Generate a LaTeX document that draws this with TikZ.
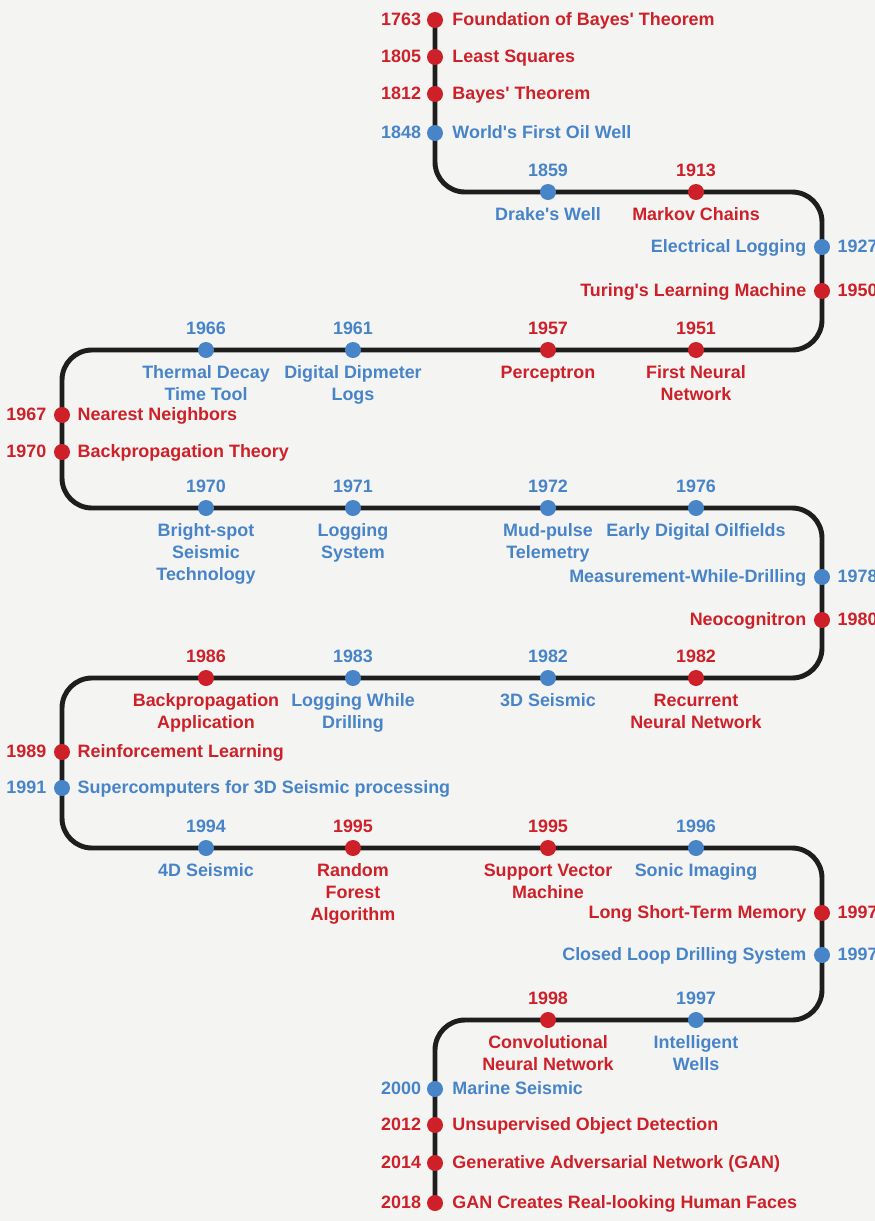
\documentclass[tikz,border=0pt]{standalone}
\usepackage{fontspec}
\setsansfont{Liberation Sans}
\usetikzlibrary{positioning,backgrounds}

\definecolor{mlred}{RGB}{206,32,40}
\definecolor{oilblue}{RGB}{72,132,200}
\definecolor{paper}{RGB}{244,244,243}
\definecolor{rail}{RGB}{30,30,30}

\begin{document}
\begin{tikzpicture}[
  x=0.02cm, y=-0.02cm,
  font=\sffamily\bfseries\fontsize{10.2}{12.5}\selectfont,
  track/.style={line width=2.8pt, rail, rounded corners=0.6cm},
  dot/.style={circle, minimum size=0.32cm, inner sep=0pt},
  ml/.style={dot, fill=mlred},
  oil/.style={dot, fill=oilblue},
  mltext/.style={text=mlred, align=center, inner sep=2pt},
  oiltext/.style={text=oilblue, align=center, inner sep=2pt},
  mlside/.style={mltext, text height=1.45ex, text depth=0pt},
  oilside/.style={oiltext, text height=1.45ex, text depth=0pt},
]

% ===== Canvas =====
\fill[paper] (0,0) rectangle (875,1221);
\useasboundingbox (0,0) rectangle (875,1221);

% ===== The winding track =====
\coordinate (c0) at (435,20);
\coordinate (c1) at (822,192);
\coordinate (c2) at (62,350);
\coordinate (c3) at (822,508);
\coordinate (c4) at (62,678);
\coordinate (c5) at (822,848);
\coordinate (c6) at (435,1020);
\coordinate (c7) at (435,1203);
\draw[track] (c0) |- (c1) |- (c2) |- (c3) |- (c4) |- (c5) |- (c6) -- (c7);

% ===== Top stem (x = 435) =====
\node[ml] (e1763) at (435,20) {};
\node[mlside, left=1pt of e1763] (y1763) {1763};
\node[mlside, right=3pt of e1763] (t1763) {Foundation of Bayes\textquotesingle\ Theorem};
\node[ml] (e1805) at (435,57) {};
\node[mlside, left=1pt of e1805] (y1805) {1805};
\node[mlside, right=3pt of e1805] (t1805) {Least Squares};
\node[ml] (e1812) at (435,94) {};
\node[mlside, left=1pt of e1812] (y1812) {1812};
\node[mlside, right=3pt of e1812] (t1812) {Bayes\textquotesingle\ Theorem};
\node[oil] (e1848) at (435,133) {};
\node[oilside, left=1pt of e1848] (y1848) {1848};
\node[oilside, right=3pt of e1848] (t1848) {World\textquotesingle s First Oil Well};

% ===== Row 1 (y = 192) =====
\node[oil] (e1859) at (548,192) {};
\node[oiltext, above=2pt of e1859] (y1859) {1859};
\node[oiltext, below=2pt of e1859] (t1859) {Drake\textquotesingle s Well};
\node[ml] (e1913) at (696,192) {};
\node[mltext, above=2pt of e1913] (y1913) {1913};
\node[mltext, below=2pt of e1913] (t1913) {Markov Chains};

% right bend
\node[oil] (e1927) at (822,247) {};
\node[oilside, right=2pt of e1927] (y1927) {1927};
\node[oilside, left=2pt of e1927] (t1927) {Electrical Logging};
\node[ml] (e1950) at (822,291) {};
\node[mlside, right=2pt of e1950] (y1950) {1950};
\node[mlside, left=2pt of e1950] (t1950) {Turing\textquotesingle s Learning Machine};

% ===== Row 2 (y = 350) =====
\node[ml] (e1951) at (696,350) {};
\node[mltext, above=2pt of e1951] (y1951) {1951};
\node[mltext, below=2pt of e1951] (t1951) {First Neural\\Network};
\node[ml] (e1957) at (548,350) {};
\node[mltext, above=2pt of e1957] (y1957) {1957};
\node[mltext, below=2pt of e1957] (t1957) {Perceptron};
\node[oil] (e1961) at (353,350) {};
\node[oiltext, above=2pt of e1961] (y1961) {1961};
\node[oiltext, below=2pt of e1961] (t1961) {Digital Dipmeter\\Logs};
\node[oil] (e1966) at (206,350) {};
\node[oiltext, above=2pt of e1966] (y1966) {1966};
\node[oiltext, below=2pt of e1966] (t1966) {Thermal Decay\\Time Tool};

% left bend
\node[ml] (e1967) at (62,415) {};
\node[mlside, left=2pt of e1967] (y1967) {1967};
\node[mlside, right=2pt of e1967] (t1967) {Nearest Neighbors};
\node[ml] (e1970a) at (62,452) {};
\node[mlside, left=2pt of e1970a] (y1970a) {1970};
\node[mlside, right=2pt of e1970a] (t1970a) {Backpropagation Theory};

% ===== Row 3 (y = 508) =====
\node[oil] (e1970b) at (206,508) {};
\node[oiltext, above=2pt of e1970b] (y1970b) {1970};
\node[oiltext, below=2pt of e1970b] (t1970b) {Bright-spot\\Seismic\\Technology};
\node[oil] (e1971) at (353,508) {};
\node[oiltext, above=2pt of e1971] (y1971) {1971};
\node[oiltext, below=2pt of e1971] (t1971) {Logging\\System};
\node[oil] (e1972) at (548,508) {};
\node[oiltext, above=2pt of e1972] (y1972) {1972};
\node[oiltext, below=2pt of e1972] (t1972) {Mud-pulse\\Telemetry};
\node[oil] (e1976) at (696,508) {};
\node[oiltext, above=2pt of e1976] (y1976) {1976};
\node[oiltext, below=2pt of e1976] (t1976) {Early Digital Oilfields};

% right bend
\node[oil] (e1978) at (822,577) {};
\node[oilside, right=2pt of e1978] (y1978) {1978};
\node[oilside, left=2pt of e1978] (t1978) {Measurement-While-Drilling};
\node[ml] (e1980) at (822,620) {};
\node[mlside, right=2pt of e1980] (y1980) {1980};
\node[mlside, left=2pt of e1980] (t1980) {Neocognitron};

% ===== Row 4 (y = 678) =====
\node[ml] (e1982a) at (696,678) {};
\node[mltext, above=2pt of e1982a] (y1982a) {1982};
\node[mltext, below=2pt of e1982a] (t1982a) {Recurrent\\Neural Network};
\node[oil] (e1982b) at (548,678) {};
\node[oiltext, above=2pt of e1982b] (y1982b) {1982};
\node[oiltext, below=2pt of e1982b] (t1982b) {3D Seismic};
\node[oil] (e1983) at (353,678) {};
\node[oiltext, above=2pt of e1983] (y1983) {1983};
\node[oiltext, below=2pt of e1983] (t1983) {Logging While\\Drilling};
\node[ml] (e1986) at (206,678) {};
\node[mltext, above=2pt of e1986] (y1986) {1986};
\node[mltext, below=2pt of e1986] (t1986) {Backpropagation\\Application};

% left bend
\node[ml] (e1989) at (62,752) {};
\node[mlside, left=2pt of e1989] (y1989) {1989};
\node[mlside, right=2pt of e1989] (t1989) {Reinforcement Learning};
\node[oil] (e1991) at (62,788) {};
\node[oilside, left=2pt of e1991] (y1991) {1991};
\node[oilside, right=2pt of e1991] (t1991) {Supercomputers for 3D Seismic processing};

% ===== Row 5 (y = 848) =====
\node[oil] (e1994) at (206,848) {};
\node[oiltext, above=2pt of e1994] (y1994) {1994};
\node[oiltext, below=2pt of e1994] (t1994) {4D Seismic};
\node[ml] (e1995a) at (353,848) {};
\node[mltext, above=2pt of e1995a] (y1995a) {1995};
\node[mltext, below=2pt of e1995a] (t1995a) {Random\\Forest\\Algorithm};
\node[ml] (e1995b) at (548,848) {};
\node[mltext, above=2pt of e1995b] (y1995b) {1995};
\node[mltext, below=2pt of e1995b] (t1995b) {Support Vector\\Machine};
\node[oil] (e1996) at (696,848) {};
\node[oiltext, above=2pt of e1996] (y1996) {1996};
\node[oiltext, below=2pt of e1996] (t1996) {Sonic Imaging};

% right bend
\node[ml] (e1997a) at (822,913) {};
\node[mlside, right=2pt of e1997a] (y1997a) {1997};
\node[mlside, left=2pt of e1997a] (t1997a) {Long Short-Term Memory};
\node[oil] (e1997b) at (822,955) {};
\node[oilside, right=2pt of e1997b] (y1997b) {1997};
\node[oilside, left=2pt of e1997b] (t1997b) {Closed Loop Drilling System};

% ===== Row 6 (y = 1020) =====
\node[oil] (e1997c) at (696,1020) {};
\node[oiltext, above=2pt of e1997c] (y1997c) {1997};
\node[oiltext, below=2pt of e1997c] (t1997c) {Intelligent\\Wells};
\node[ml] (e1998) at (548,1020) {};
\node[mltext, above=2pt of e1998] (y1998) {1998};
\node[mltext, below=2pt of e1998] (t1998) {Convolutional\\Neural Network};

% ===== Bottom stem (x = 435) =====
\node[oil] (e2000) at (435,1089) {};
\node[oilside, left=1pt of e2000] (y2000) {2000};
\node[oilside, right=3pt of e2000] (t2000) {Marine Seismic};
\node[ml] (e2012) at (435,1125) {};
\node[mlside, left=1pt of e2012] (y2012) {2012};
\node[mlside, right=3pt of e2012] (t2012) {Unsupervised Object Detection};
\node[ml] (e2014) at (435,1163) {};
\node[mlside, left=1pt of e2014] (y2014) {2014};
\node[mlside, right=3pt of e2014] (t2014) {Generative Adversarial Network (GAN)};
\node[ml] (e2018) at (435,1203) {};
\node[mlside, left=1pt of e2018] (y2018) {2018};
\node[mlside, right=3pt of e2018] (t2018) {GAN Creates Real-looking Human Faces};

\end{tikzpicture}
\end{document}
